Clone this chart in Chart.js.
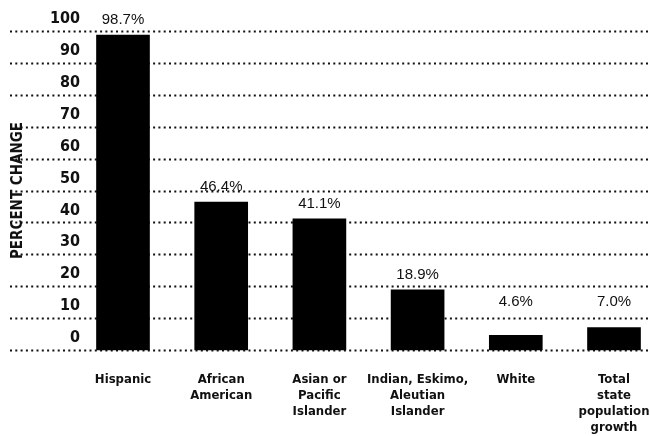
<!DOCTYPE html>
<html>
<head>
<meta charset="utf-8">
<script src="https://cdn.jsdelivr.net/npm/chart.js@4.4.1/dist/chart.umd.min.js"></script>
<style>
  html, body { margin: 0; padding: 0; background: #fff; overflow: hidden; }
  #wrap { width: 650px; height: 436px; position: relative; }
</style>
</head>
<body>
<div id="wrap"><canvas id="chart"></canvas></div>
<script>
/* =========================================================
   DATA
========================================================= */

const categories = [
  ["Hispanic"],
  ["African", "American"],
  ["Asian or", "Pacific", "Islander"],
  ["Indian, Eskimo,", "Aleutian", "Islander"],
  ["White"],
  ["Total", "state", "population", "growth"]
];

const percentChange = [98.7, 46.4, 41.1, 18.9, 4.6, 7.0];

const yTicks = [0, 10, 20, 30, 40, 50, 60, 70, 80, 90, 100];

const yTitle = "PERCENT CHANGE";

/* =========================================================
   STYLE
========================================================= */

const NARROW = "'DejaVu Sans Condensed', 'Liberation Sans Narrow', sans-serif";
const REGULAR = "'Liberation Sans', Arial, sans-serif";

/* =========================================================
   PLUGINS
========================================================= */

// dotted gridlines run across the whole width, past the tick labels
const dottedGrid = {
  id: "dottedGrid",
  beforeDatasetsDraw(chart) {
    const { ctx, scales: { y } } = chart;
    ctx.save();
    ctx.strokeStyle = "#111";
    ctx.lineWidth = 2;
    ctx.setLineDash([2, 3.3]);
    y.ticks.forEach((t) => {
      const py = Math.round(y.getPixelForValue(t.value)) + 0.5;
      ctx.beginPath();
      ctx.moveTo(10, py);
      ctx.lineTo(chart.width, py);
      ctx.stroke();
    });
    ctx.restore();
  }
};

// value labels above each bar
const valueLabels = {
  id: "valueLabels",
  afterDatasetsDraw(chart) {
    const { ctx, scales: { y } } = chart;
    const meta = chart.getDatasetMeta(0);
    const floorY = y.getPixelForValue(15);
    ctx.save();
    ctx.fillStyle = "#111";
    ctx.font = `15px ${REGULAR}`;
    ctx.textAlign = "center";
    ctx.textBaseline = "middle";
    meta.data.forEach((bar, i) => {
      const ly = Math.min(bar.y - 15, floorY);
      ctx.fillText(`${percentChange[i].toFixed(1)}%`, bar.x, ly);
    });
    ctx.restore();
  }
};

/* =========================================================
   CHART
========================================================= */

new Chart(document.getElementById("chart"), {
  type: "bar",
  data: {
    labels: categories,
    datasets: [
      {
        data: percentChange,
        backgroundColor: "#000",
        borderWidth: 0,
        barThickness: 53,
        clip: false
      }
    ]
  },
  options: {
    responsive: true,
    maintainAspectRatio: false,
    animation: false,
    layout: { padding: { top: 31, right: 36, left: 0, bottom: 0 } },
    plugins: {
      legend: { display: false },
      tooltip: { enabled: false }
    },
    scales: {
      x: {
        offset: false,
        grid: { display: false, drawTicks: false },
        border: { display: false },
        ticks: {
          color: "#111",
          padding: 22,
          maxRotation: 0,
          autoSkip: false,
          font: { family: NARROW, size: 13, weight: "bold", lineHeight: 1.23 }
        },
        afterFit(scale) {
          scale.height = 86;
          scale.paddingLeft = 0;
          scale.paddingRight = 0;
        }
      },
      y: {
        min: 0,
        max: 100,
        afterBuildTicks(scale) {
          scale.ticks = yTicks.map((v) => ({ value: v }));
        },
        grid: { display: false, drawTicks: false },
        border: { display: false },
        ticks: {
          color: "#111",
          padding: 43,
          labelOffset: -12,
          font: { family: NARROW, size: 16, weight: "bold" }
        },
        title: {
          display: true,
          text: yTitle,
          color: "#111",
          padding: { top: 9, bottom: 0 },
          font: { family: NARROW, size: 15, weight: "bold", lineHeight: 1.2 }
        },
        afterFit(scale) {
          scale.width = 123;
          scale.paddingTop = 0;
          scale.paddingBottom = 0;
        }
      }
    }
  },
  plugins: [dottedGrid, valueLabels]
});
</script>
</body>
</html>
